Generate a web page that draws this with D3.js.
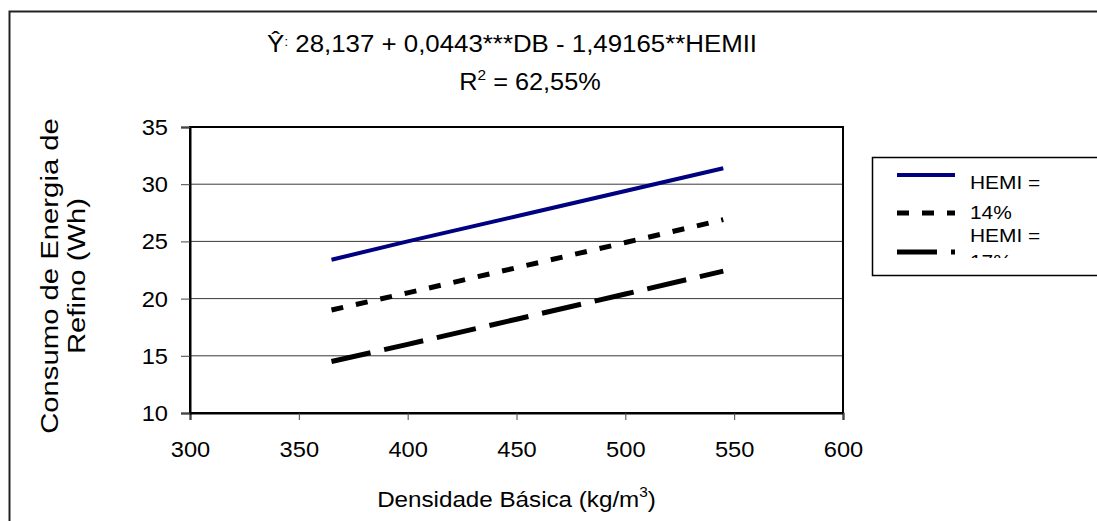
<!DOCTYPE html>
<html>
<head>
<meta charset="utf-8">
<script src="https://cdn.jsdelivr.net/npm/d3@7"></script>
<style>
  body { margin: 0; background: #fff; }
  text { font-family: "Liberation Sans", Arial, sans-serif; fill: #000; }
</style>
</head>
<body>
<div id="chart"></div>
<script>
// data
var densidade = [365, 400, 450, 500, 545];
var hemi14 = [23.4, 25.0, 27.2, 29.4, 31.4];
var hemi17 = [19.0, 20.5, 22.7, 24.9, 26.9];
var hemi20 = [14.5, 16.0, 18.2, 20.4, 22.4];
var seriesNames = ["HEMI = 14%", "HEMI = 17%", "HEMI = 20%"];
var xTicks = [300, 350, 400, 450, 500, 550, 600];
var yTicks = [10, 15, 20, 25, 30, 35];

var width = 1097,
    height = 521,
    sx = 1.1; // text in the original is drawn a bit wide

var svg = d3.select("#chart")
  .append("svg")
  .attr("width", width)
  .attr("height", height);

// helper: text placed at x,y, stretched horizontally
function wideText(parent, x, y, size, anchor) {
  return parent.append("g")
    .attr("transform", "translate(" + x + "," + y + ") scale(" + sx + ",1)")
    .append("text")
    .attr("text-anchor", anchor || "start")
    .style("font-size", size + "px");
}

// outer chart border
svg.append("rect")
  .attr("x", 9.5).attr("y", 11.5)
  .attr("width", 1100).attr("height", 520)
  .attr("fill", "none")
  .attr("stroke", "#222")
  .attr("stroke-width", 2);

var plot = { left: 190, right: 843, top: 127, bottom: 413 };

var x = d3.scaleLinear().domain([300, 600]).range([plot.left, plot.right]);
var y = d3.scaleLinear().domain([10, 35]).range([plot.bottom, plot.top]);

// gridlines
svg.append("g")
  .selectAll("line")
  .data(yTicks.slice(1, -1))
  .enter().append("line")
  .attr("x1", plot.left).attr("x2", plot.right)
  .attr("y1", function(d) { return y(d); })
  .attr("y2", function(d) { return y(d); })
  .attr("stroke", "#3a3a3a")
  .attr("stroke-width", 1);

// plot area border
svg.append("rect")
  .attr("x", plot.left).attr("y", plot.top)
  .attr("width", plot.right - plot.left)
  .attr("height", plot.bottom - plot.top)
  .attr("fill", "none")
  .attr("stroke", "#000")
  .attr("stroke-width", 2);

// axes
var xAxis = svg.append("g")
  .attr("transform", "translate(0," + plot.bottom + ")")
  .call(d3.axisBottom(x).tickValues(xTicks).tickSize(7).tickPadding(22));

var yAxis = svg.append("g")
  .attr("transform", "translate(" + plot.left + ",0)")
  .call(d3.axisLeft(y).tickValues(yTicks).tickSize(9).tickPadding(13));

[xAxis, yAxis].forEach(function(a) {
  a.select(".domain").attr("stroke", "#000").attr("stroke-width", 2);
  a.selectAll(".tick line").attr("stroke", "#444");
  a.selectAll(".tick text")
    .style("font-family", '"Liberation Sans", Arial, sans-serif')
    .style("font-size", "21.5px")
    .attr("fill", "#000")
    .attr("transform", "scale(" + sx + ",1)");
});
yAxis.selectAll(".tick text").attr("x", -22 / sx).attr("dy", "0.35em");

// lines
var line = d3.line()
  .x(function(d, i) { return x(densidade[i]); })
  .y(function(d) { return y(d); });

var styles = [
  { color: "#000080", width: 4, dash: null },
  { color: "#000", width: 5, dash: "12,13" },
  { color: "#000", width: 5, dash: "40,14" }
];

[hemi14, hemi17, hemi20].forEach(function(s, i) {
  svg.append("path")
    .datum(s)
    .attr("d", line)
    .attr("fill", "none")
    .attr("stroke", styles[i].color)
    .attr("stroke-width", styles[i].width)
    .attr("stroke-dasharray", styles[i].dash);
});

// title
var title = wideText(svg, 512, 52, 23.5, "middle");
title.append("tspan").text("Ŷ");
title.append("tspan").attr("dy", -6).style("font-size", "13px").text(":");
title.append("tspan").attr("dy", 6).text(" 28,137 + 0,0443***DB - 1,49165**HEMII");

var r2 = wideText(svg, 530, 90, 23, "middle");
r2.append("tspan").text("R");
r2.append("tspan").attr("dy", -10).style("font-size", "14px").text("2");
r2.append("tspan").attr("dy", 10).text(" = 62,55%");

// axis titles
var xt = wideText(svg, (plot.left + plot.right) / 2, 507, 22, "middle");
xt.append("tspan").text("Densidade Básica (kg/m");
xt.append("tspan").attr("dy", -10).style("font-size", "14px").text("3");
xt.append("tspan").attr("dy", 10).text(")");

var yt = svg.append("g")
  .attr("transform", "translate(0," + ((plot.top + plot.bottom) / 2 + 6) + ") rotate(-90) scale(1.22,1)")
  .append("text")
  .attr("text-anchor", "middle")
  .style("font-size", "24px");
yt.append("tspan").attr("x", 0).attr("y", 58).text("Consumo de Energia de");
yt.append("tspan").attr("x", 0).attr("y", 85).text("Refino (Wh)");

// legend (the texts wrap and get clipped, as in the original)
var legend = svg.append("g").attr("class", "legend");
legend.append("rect")
  .attr("x", 872.5).attr("y", 157.5)
  .attr("width", 300).attr("height", 118)
  .attr("fill", "#fff")
  .attr("stroke", "#000")
  .attr("stroke-width", 1.5);

var defs = svg.append("defs");
defs.append("clipPath").attr("id", "legclip")
  .append("rect").attr("x", 872).attr("y", 158).attr("width", 300).attr("height", 100);

var markerY = [175, 213, 252];
styles.forEach(function(s, i) {
  legend.append("line")
    .attr("x1", 897).attr("x2", 955)
    .attr("y1", markerY[i]).attr("y2", markerY[i])
    .attr("stroke", s.color)
    .attr("stroke-width", s.width)
    .attr("stroke-dasharray", s.dash);
});

var legText = [
  { t: "HEMI =", y: 189 },
  { t: seriesNames[0].split("= ")[1], y: 219 },
  { t: "HEMI =", y: 242 },
  { t: seriesNames[1].split("= ")[1], y: 268 }
];
var legTexts = legend.append("g").attr("clip-path", "url(#legclip)");
legText.forEach(function(d) {
  wideText(legTexts, 970, d.y, 19).text(d.t);
});
</script>
</body>
</html>
